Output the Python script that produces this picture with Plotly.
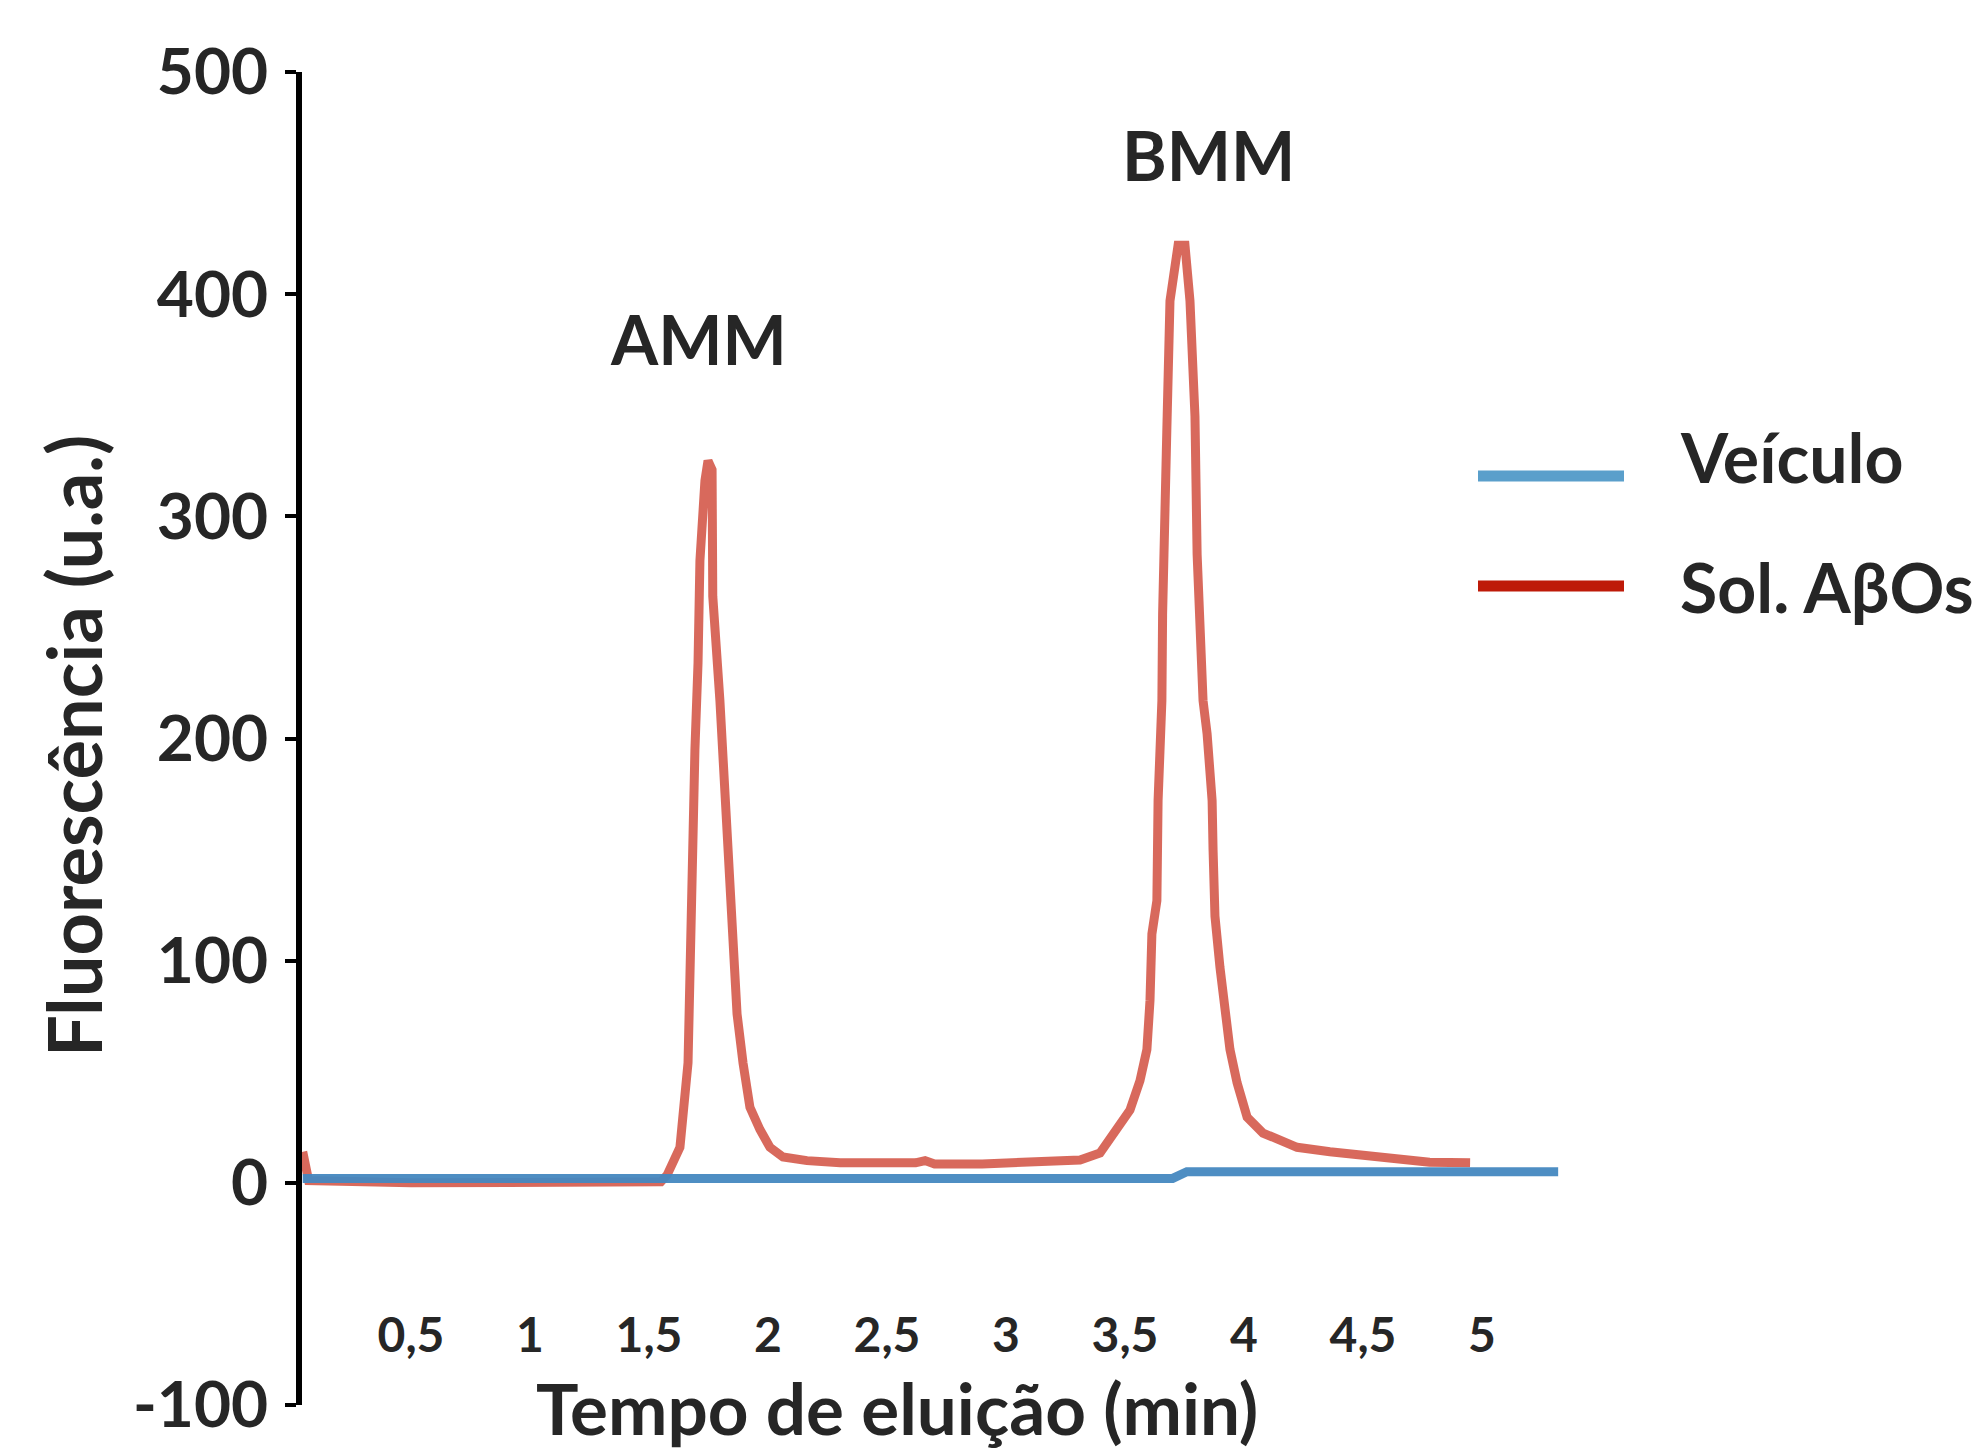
import plotly.graph_objects as go

# ---------------- data ----------------
red_x = [0.045, 0.07, 0.5, 1.0, 1.4, 1.55, 1.576, 1.601, 1.630, 1.664, 1.672, 1.685, 1.693,
         1.706, 1.714, 1.735, 1.748, 1.765, 1.768, 1.798, 1.807, 1.828, 1.832, 1.853, 1.870,
         1.895, 1.924, 1.966, 2.008, 2.063, 2.164, 2.303, 2.5, 2.62, 2.66, 2.70, 2.9, 3.1,
         3.2, 3.311, 3.395, 3.466, 3.521, 3.563, 3.592, 3.605, 3.613, 3.634, 3.639, 3.655,
         3.658, 3.676, 3.689, 3.723, 3.752, 3.773, 3.794, 3.803, 3.828, 3.845, 3.866, 3.870,
         3.878, 3.899, 3.920, 3.941, 3.971, 4.013, 4.080, 4.223, 4.361, 4.50, 4.643, 4.78, 4.95]
red_y = [14, 1, 0, 0, 0, 0.5, 3.5, 9, 16, 54, 106, 141, 195,
         234, 280, 316, 325, 321, 264, 217, 198, 159, 144, 109, 76,
         54, 34, 24, 16, 11.6, 10, 9, 8.5, 9, 10, 8.5, 8.5, 9,
         10, 10.3, 13.4, 23.8, 32.8, 46, 60, 82, 112, 127, 172, 217,
         256, 340, 397, 422, 422, 397, 345, 283, 217, 202, 172, 150,
         120, 97, 75, 60, 45, 29.6, 22.4, 16, 14, 12.5, 11, 9.3, 9]

blue_x = [0.045, 1.0, 2.0, 3.0, 3.70, 3.76, 4.0, 4.5, 5.0, 5.32]
blue_y = [2, 2, 2, 2, 2, 5, 5, 5.5, 5.5, 5]

series_names = ["Veículo", "Sol. AβOs"]
peak_labels = ["AMM", "BMM"]
peak_x = [1.706, 3.85]
peak_y = [380, 463]

x_tickvals = [0.5, 1, 1.5, 2, 2.5, 3, 3.5, 4, 4.5, 5]
x_ticktext = ["0,5", "1", "1,5", "2", "2,5", "3", "3,5", "4", "4,5", "5"]
y_tickvals = [-100, 0, 100, 200, 300, 400, 500]
y_ticktext = ["-100", "0", "100", "200", "300", "400", "500"]

x_title = "Tempo de eluição (min)"
y_title = "Fluorescência (u.a.)"

# ---------------- layout constants ----------------
W, H = 1979, 1450
ML, MR, MT, MB = 302, 409, 72, 45
PW, PH = W - ML - MR, H - MT - MB
X0_PX, PX_PER_UNIT = 292.0, 238.0
X_RANGE = [(ML - X0_PX) / PX_PER_UNIT, (W - MR - X0_PX) / PX_PER_UNIT]
FONT = "Lato"
TXT = "#262626"
RED = "rgba(208,72,56,0.82)"
BLUE = "rgba(68,136,192,0.95)"
RED_LEG = "#BE1A08"
BLUE_LEG = "#5A9FCB"


def px_x(p):
    return (p - ML) / PW


def px_y(p):
    return (H - MB - p) / PH


fig = go.Figure()
fig.add_trace(go.Scatter(x=red_x, y=red_y, mode="lines", name=series_names[1],
                         line=dict(color=RED, width=9), showlegend=False, cliponaxis=False))
fig.add_trace(go.Scatter(x=blue_x, y=blue_y, mode="lines", name=series_names[0],
                         line=dict(color=BLUE, width=9), showlegend=False))

annotations = []
for lab, xx, yy in zip(peak_labels, peak_x, peak_y):
    annotations.append(dict(x=xx, y=yy, xref="x", yref="y", text=lab, showarrow=False,
                            font=dict(family=FONT, size=68, color=TXT, weight=700),
                            xanchor="center", yanchor="middle"))

# axis titles
annotations.append(dict(x=px_x(897), y=px_y(1407), xref="paper", yref="paper", text=x_title,
                        showarrow=False, font=dict(family=FONT, size=71, color=TXT, weight=700),
                        xanchor="center", yanchor="middle"))
annotations.append(dict(x=px_x(73), y=px_y(746), xref="paper", yref="paper", text=y_title,
                        showarrow=False, textangle=-90,
                        font=dict(family=FONT, size=74, color=TXT, weight=700),
                        xanchor="center", yanchor="middle"))

# manual legend
shapes = []
leg_rows = [(series_names[0], BLUE_LEG, 476, 457), (series_names[1], RED_LEG, 586, 586)]
for name, col, ly, ty in leg_rows:
    shapes.append(dict(type="line", xref="paper", yref="paper",
                       x0=px_x(1478), x1=px_x(1624), y0=px_y(ly), y1=px_y(ly),
                       line=dict(color=col, width=11)))
    annotations.append(dict(x=px_x(1678), y=px_y(ty), xref="paper", yref="paper", text=name,
                            showarrow=False, font=dict(family=FONT, size=68, color=TXT, weight=700),
                            xanchor="left", yanchor="middle"))

fig.update_layout(
    width=W, height=H,
    margin=dict(l=ML, r=MR, t=MT, b=MB, autoexpand=False),
    paper_bgcolor="white", plot_bgcolor="white",
    annotations=annotations, shapes=shapes,
    xaxis=dict(range=X_RANGE, showgrid=False, zeroline=False, showline=False,
               ticks="", tickvals=x_tickvals, ticktext=x_ticktext,
               tickfont=dict(family=FONT, size=48, color=TXT, weight=700),
               anchor="free", position=px_y(1303)),
    yaxis=dict(range=[-100, 500], showgrid=False, zeroline=False, showline=True,
               linecolor="black", linewidth=6, ticks="outside", ticklen=11, tickwidth=4,
               tickcolor="black", tickvals=y_tickvals, ticktext=y_ticktext,
               tickfont=dict(family=FONT, size=64, color=TXT, weight=700),
               ticklabelstandoff=4),
)

fig.write_html("out.html", config={"displayModeBar": False},
               post_script="document.body.style.margin='0';document.body.style.overflow='hidden';")
